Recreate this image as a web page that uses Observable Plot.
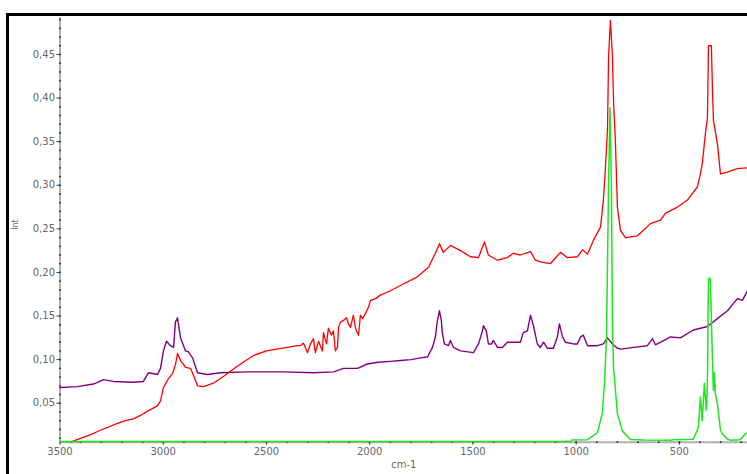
<!DOCTYPE html>
<html><head><meta charset="utf-8">
<script src="https://cdn.jsdelivr.net/npm/d3@7"></script>
<script src="https://cdn.jsdelivr.net/npm/@observablehq/plot@0.6"></script>
<style>
body{margin:0;background:#fff;}
#wrap{position:relative;width:747px;height:474px;overflow:hidden;}
#frame{position:absolute;left:6px;top:13px;width:900px;height:600px;border:3px solid #000;box-sizing:border-box;pointer-events:none;}
</style>
</head><body><div id="wrap"><div id="chart"></div><div id="frame"></div></div>
<script>
// Red spectrum
const redWn  = [3449,3401,3352,3304,3222,3183,3144,3110,3076,3028,3013,2999,2975,2955,2940,2931,2916,2892,2868,2850,2834,2805,2757,2700,2650,2600,2560,2500,2450,2400,2350,2335,
  2321,2301,2287,2272,2263,2248,2229,2224,2209,2200,2185,2176,2166,2156,2151,2142,2127,2112,2103,2093,2079,2069,2054,2045,2035,2020,2006,1996,1972,1948,1900,1851,
  1769,1715,1682,1662,1643,1609,1560,1512,1473,1444,1425,1381,1333,1304,1270,1221,1197,1173,1125,1076,1042,994,969,945,916,
  882,868,858,848,843,834,824,819,810,800,785,761,703,640,591,567,509,461,413,398,389,374,364,359,345,340,335,316,301,267,219,170];
const redInt = [0.0055,0.0096,0.014,0.019,0.027,0.030,0.032,0.036,0.041,0.047,0.053,0.068,0.078,0.084,0.095,0.107,0.099,0.091,0.090,0.080,0.070,0.069,0.073,0.082,0.091,0.099,0.105,0.110,0.112,0.114,0.116,0.116,
  0.119,0.108,0.118,0.124,0.108,0.121,0.110,0.131,0.118,0.136,0.128,0.133,0.110,0.114,0.137,0.143,0.145,0.148,0.141,0.137,0.151,0.136,0.128,0.151,0.147,0.153,0.160,0.168,0.170,0.174,0.179,0.185,
  0.195,0.206,0.222,0.233,0.223,0.231,0.225,0.218,0.217,0.235,0.220,0.214,0.217,0.222,0.220,0.224,0.214,0.212,0.210,0.223,0.217,0.218,0.226,0.221,0.237,
  0.252,0.283,0.320,0.366,0.447,0.489,0.447,0.397,0.351,0.275,0.248,0.240,0.242,0.256,0.260,0.268,0.275,0.283,0.298,0.313,0.325,0.359,0.378,0.460,0.460,0.412,0.374,0.348,0.313,0.315,0.319,0.320];

// Purple spectrum
const purpleWn  = [3500,3415,3338,3289,3241,3144,3096,3071,3028,3013,2999,2984,2965,2950,2941,2931,2916,2892,2878,2858,2834,2786,2723,2592,2418,2272,2175,2127,2059,2011,1960,1900,1851,1800,1754,
  1720,1696,1682,1672,1662,1653,1648,1638,1619,1609,1594,1560,1497,1473,1454,1449,1435,1425,1410,1401,1381,1357,1333,1270,1256,1236,1221,1207,1188,1173,1158,1139,1110,1091,1081,1066,1052,1013,994,979,965,945,
  897,868,848,824,800,785,722,655,630,616,558,543,495,432,364,316,267,219,195,170];
const purpleInt = [0.068,0.069,0.072,0.077,0.075,0.074,0.075,0.085,0.083,0.090,0.110,0.121,0.116,0.114,0.143,0.148,0.125,0.110,0.109,0.102,0.085,0.083,0.085,0.086,0.086,0.085,0.086,0.090,0.090,0.095,0.097,0.098,0.099,0.100,0.102,
  0.103,0.114,0.126,0.145,0.156,0.145,0.130,0.118,0.116,0.122,0.114,0.110,0.108,0.118,0.133,0.139,0.133,0.118,0.118,0.122,0.114,0.114,0.120,0.120,0.131,0.133,0.151,0.139,0.118,0.114,0.120,0.113,0.113,0.126,0.141,0.126,0.120,0.118,0.118,0.126,0.128,0.116,
  0.116,0.118,0.125,0.118,0.113,0.112,0.114,0.116,0.124,0.117,0.124,0.126,0.125,0.134,0.138,0.147,0.156,0.170,0.168,0.179];

// Green spectrum
const greenWn  = [3500,1027,1022,945,897,873,863,853,843,836,829,824,819,800,776,737,674,543,529,432,408,398,389,379,369,364,359,350,340,335,330,326,316,306,301,292,267,253,205,180,170];
const greenInt = [0.006,0.006,0.0077,0.0082,0.0163,0.039,0.072,0.125,0.300,0.389,0.300,0.137,0.091,0.038,0.018,0.0083,0.0077,0.0075,0.0080,0.0088,0.022,0.057,0.030,0.073,0.042,0.076,0.193,0.193,0.102,0.065,0.085,0.061,0.050,0.030,0.019,0.015,0.009,0.0075,0.0080,0.015,0.016];

// Axis ticks
const xMajor = [3500,3000,2500,2000,1500,1000,500];
const xMinor = d3.range(3400, 199, -100);
const yMajor = [0.05,0.10,0.15,0.20,0.25,0.30,0.35,0.40,0.45];
const yMinor = d3.range(1, 50).map(i => i / 100);

const xDomain = [3500, 170];
const yDomain = [0.0053, 0.4924];

const toRows = (wn, v) => wn.map((w, i) => ({wn: w, v: v[i]}));
const red = toRows(redWn, redInt);
const purple = toRows(purpleWn, purpleInt);
const green = toRows(greenWn, greenInt);

const fmtY = d => d.toFixed(2).replace(".", ",");

const chart = Plot.plot({
  width: 747,
  height: 474,
  marginLeft: 59.5,
  marginRight: 0,
  marginTop: 17,
  marginBottom: 32.3,
  style: {fontFamily: "DejaVu Sans", fontSize: "10px", background: "#fff", color: "#666"},
  x: {domain: xDomain, label: null, axis: null},
  y: {domain: yDomain, label: null, axis: null},
  marks: [
    Plot.ruleX([xDomain[0]], {stroke: "#b0b0b0", strokeWidth: 2}),
    Plot.ruleY([yDomain[0]], {stroke: "#b0b0b0", strokeWidth: 2}),
    Plot.dot(yMinor, {x: () => xDomain[0], y: d => d, r: 0.9, fill: "#222", stroke: null}),
    Plot.dot(xMinor, {x: d => d, y: () => yDomain[0], r: 0.9, fill: "#222", stroke: null}),
    Plot.axisY(yMajor, {tickSize: 3, tickPadding: 2, tickFormat: fmtY, stroke: "#333", fill: "#666", fontSize: 10}),
    Plot.axisX(xMajor, {tickSize: 3, tickPadding: 3, tickFormat: d => String(d), stroke: "#333", fill: "#666", fontSize: 10}),
    Plot.text(["Int"], {frameAnchor: "left", dx: -44.5, rotate: -90, fontSize: 8, fill: "#666"}),
    Plot.text(["cm-1"], {frameAnchor: "bottom", dy: 26, fontSize: 10, fill: "#666"}),
    Plot.line(purple, {x: "wn", y: "v", stroke: "#800080", strokeWidth: 1.4}),
    Plot.line(red, {x: "wn", y: "v", stroke: "#ff0000", strokeWidth: 1.3}),
    Plot.line(green, {x: "wn", y: "v", stroke: "#1ee61e", strokeWidth: 1.5})
  ]
});
document.getElementById("chart").appendChild(chart);
</script>
</body></html>
